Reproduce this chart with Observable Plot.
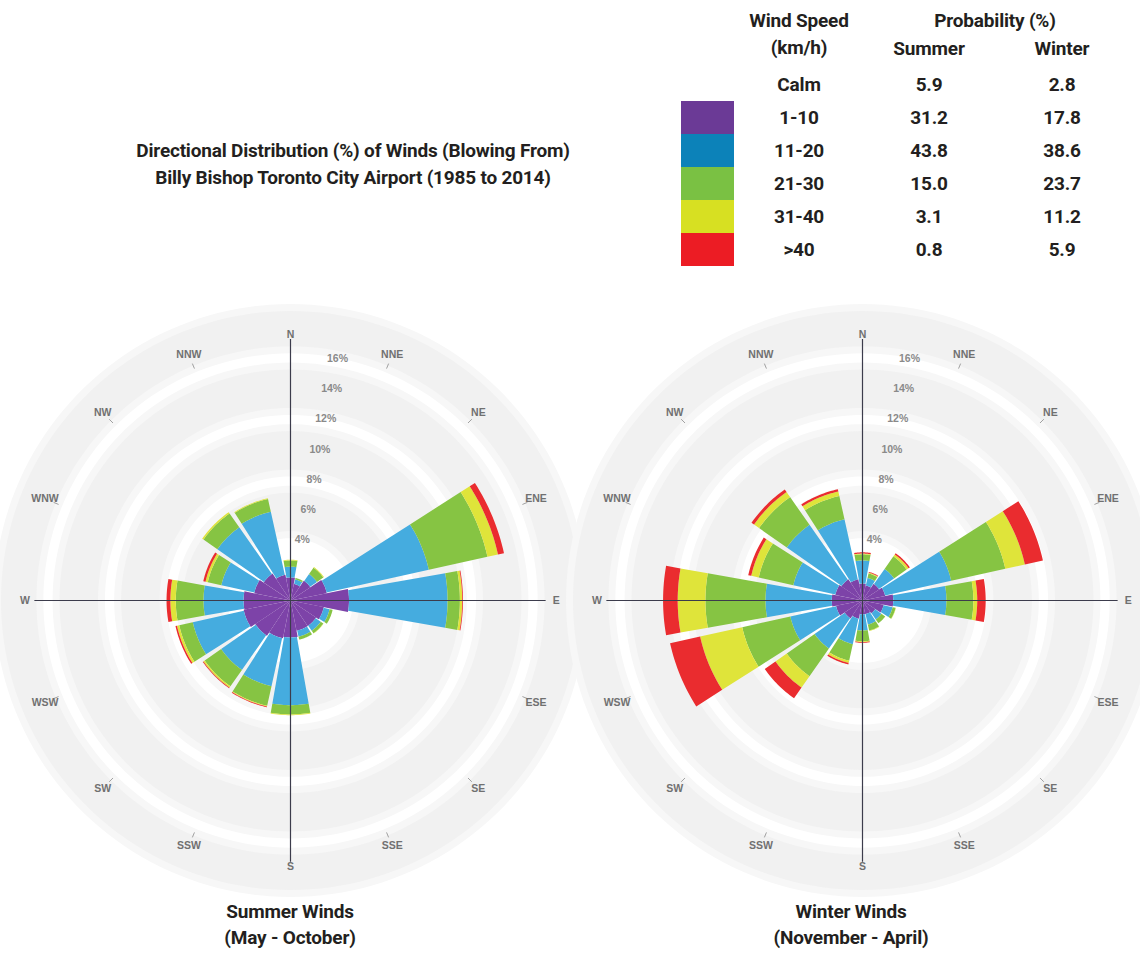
<!DOCTYPE html>
<html><head><meta charset="utf-8">
<script src="https://cdn.jsdelivr.net/npm/d3@7"></script>
<script src="https://cdn.jsdelivr.net/npm/@observablehq/plot@0.6"></script>
<style>
body{margin:0;background:#fff;}
#page{position:relative;width:1140px;height:969px;overflow:hidden;font-family:Roboto,"Liberation Sans",sans-serif;color:#231f20;font-weight:700;font-size:19px;}
.t{position:absolute;white-space:nowrap;transform:translateX(-50%);text-align:center;line-height:24px;letter-spacing:-0.2px;}
.sw{position:absolute;left:681px;width:53px;height:33px;}
.rose{position:absolute;top:320px;}
</style></head><body><div id="page"></div>
<script>
// ---------- data ----------
const directions = ["N","NNE","NE","ENE","E","ESE","SE","SSE","S","SSW","SW","WSW","W","WNW","NW","NNW"];
const speedClasses = ["1-10","11-20","21-30","31-40",">40"];
const legendSpeeds = ["Calm","1-10","11-20","21-30","31-40",">40"];
const summerProb = ["5.9","31.2","43.8","15.0","3.1","0.8"];
const winterProb = ["2.8","17.8","38.6","23.7","11.2","5.9"];
const legendColors = ["#6b3a96","#0c82b9","#7ac143","#d7e022","#ec1c24"];
const roseColors = ["#7d43a8","#45acdf","#86c443","#dfe43a","#ea2c2f"];
const radialTicks = [4,6,8,10,12,14,16];

// summer (May - October), % per direction, per speed class
const summer_1_10  = [1.5,1.1,1.55,2.4,3.8,2.2,2.0,2.0,2.4,2.5,2.75,3.1,3.05,2.4,2.1,1.7];
const summer_11_20 = [0.7,0.3,0.55,6.8,6.4,0.4,0.4,0.4,4.4,3.2,2.75,3.4,2.6,2.2,3.7,4.2];
const summer_21_30 = [0.4,0.1,0.5,3.9,0.8,0.2,0.2,0.2,0.6,1.3,1.3,0.9,1.8,0.9,1.1,0.85];
const summer_31_40 = [0.05,0,0.05,0.7,0.15,0,0.02,0,0.05,0.05,0.1,0.15,0.35,0.15,0.1,0.05];
const summer_gt40  = [0,0,0,0.4,0.05,0,0,0,0,0.05,0.05,0.1,0.25,0.15,0,0];
// winter (November - April)
const winter_1_10  = [1.1,1.0,1.3,1.5,2.0,1.4,1.0,0.9,0.9,1.2,1.4,1.75,2.0,1.8,1.65,1.4];
const winter_11_20 = [1.5,0.5,1.2,4.4,3.45,0.6,0.5,0.7,1.05,1.7,2.4,3.05,4.3,2.8,4.35,4.0];
const winter_21_30 = [0.4,0.3,1.0,3.6,1.75,0.2,0.3,0.4,0.7,1.1,2.2,3.2,3.9,2.3,2.2,1.55];
const winter_31_40 = [0.05,0.05,0.15,1.3,0.25,0.02,0,0.03,0.05,0.15,0.9,2.8,1.8,0.5,0.4,0.3];
const winter_gt40  = [0.08,0.05,0.1,1.2,0.55,0,0,0,0.05,0.1,0.85,2.0,0.95,0.2,0.2,0.15];

// ---------- layout ----------
const page = document.getElementById("page");
function txt(s, x, y, extra) {
  const d = document.createElement("div");
  d.className = "t"; d.textContent = s;
  d.style.left = x + "px"; d.style.top = (y - 12) + "px";
  if (extra) Object.assign(d.style, extra);
  page.appendChild(d);
}
txt("Directional Distribution (%) of Winds (Blowing From)", 353, 151);
txt("Billy Bishop Toronto City Airport (1985 to 2014)", 353, 178);

txt("Wind Speed", 799, 21);
txt("(km/h)", 799, 48);
txt("Probability (%)", 995, 21);
txt("Summer", 929, 49);
txt("Winter", 1062, 49);
const rowY = [85,118,151,184,217,250];
legendSpeeds.forEach((s,i) => {
  txt(s, 799, rowY[i]);
  txt(summerProb[i], 929, rowY[i]);
  txt(winterProb[i], 1062, rowY[i]);
  if (i > 0) {
    const sw = document.createElement("div");
    sw.className = "sw"; sw.style.top = (101 + (i-1)*33) + "px";
    sw.style.background = legendColors[i-1];
    page.appendChild(sw);
  }
});
txt("Summer Winds", 290, 912);
txt("(May - October)", 290, 938);
txt("Winter Winds", 851, 912);
txt("(November - April)", 851, 938);

// ---------- roses ----------
const K = 15.4;           // px per percent
const W = 572, H = 560, CX = 290, CY = 280;
const rad = a => a * Math.PI / 180;

function sectorPts(id, cls, r0, r1, a0, a1, rows, n) {
  n = n || 16;
  for (let j = 0; j <= n; j++) { const a = rad(a0 + (a1 - a0) * j / n); rows.push({id, cls, x: r1 * Math.sin(a), y: r1 * Math.cos(a)}); }
  for (let j = n; j >= 0; j--) { const a = rad(a0 + (a1 - a0) * j / n); rows.push({id, cls, x: r0 * Math.sin(a), y: r0 * Math.cos(a)}); }
}

function rosePlot(series, left) {
  // background bands
  const bg = [];
  const bands = [[4.5,7.0],[8.5,11.0],[12.5,15.0],[16.5,18.8]];
  bands.forEach((b,i) => {
    sectorPts("f"+i, "fringe", b[0]-0.45, b[1]+0.45, 0, 360, bg, 180);
    sectorPts("b"+i, "band", b[0], b[1], 0, 360, bg, 180);
  });
  // wedges
  const rows = [];
  directions.forEach((d, i) => {
    const th = i * 22.5;
    let base = 0;
    series.forEach((arr, k) => {
      const v = arr[i];
      if (!(v > 0)) return;
      const half = k === 0 ? 11.25 : 10.0;
      sectorPts(d + k, speedClasses[k], base, base + v, th - half, th + half, rows);
      base += v;
    });
  });
  const labelR = 17.25;
  const tickA = rad(11);
  const minor = directions.filter((d,i) => i % 4 !== 0);
  const ang = d => rad(directions.indexOf(d) * 22.5);
  const p = Plot.plot({
    width: W, height: H, margin: 0,
    style: {background: "transparent", overflow: "visible"},
    x: {domain: [-CX / K, (W - CX) / K], axis: null},
    y: {domain: [-(H - CY) / K, CY / K], axis: null},
    color: {domain: [...speedClasses, "band", "fringe"], range: [...roseColors, "#f1f1f1", "#f7f7f7"]},
    marks: [
      Plot.line(bg, {x: "x", y: "y", z: "id", fill: "cls", stroke: "none"}),
      Plot.text(radialTicks, {x: v => v * Math.sin(tickA), y: v => v * Math.cos(tickA), text: v => v + "%", fontSize: 10.5, fill: "#8a8a8a", fontFamily: "Liberation Sans, sans-serif"}),
      Plot.line(rows, {x: "x", y: "y", z: "id", fill: "cls", stroke: "none"}),
      Plot.ruleX([0], {y1: -17.0, y2: 16.95, stroke: "#3c3c4c", strokeWidth: 1.2}),
      Plot.ruleY([0], {x1: -16.6, x2: 16.6, stroke: "#3c3c4c", strokeWidth: 1.2}),
      Plot.link(minor, {
        x1: d => 16.3 * Math.sin(ang(d)), y1: d => 16.3 * Math.cos(ang(d)),
        x2: d => 16.65 * Math.sin(ang(d)), y2: d => 16.65 * Math.cos(ang(d)),
        stroke: "#a0a0a0", strokeWidth: 1}),
      Plot.text(directions, {
        x: d => labelR * Math.sin(ang(d)), y: d => labelR * Math.cos(ang(d)),
        text: d => d, fontSize: 10.5, fill: "#707070", fontFamily: "Liberation Sans, sans-serif"})
    ]
  });
  p.classList.add("rose");
  p.style.left = left + "px";
  page.appendChild(p);
}
rosePlot([summer_1_10, summer_11_20, summer_21_30, summer_31_40, summer_gt40], 0);
rosePlot([winter_1_10, winter_11_20, winter_21_30, winter_31_40, winter_gt40], 572);
</script></body></html>
